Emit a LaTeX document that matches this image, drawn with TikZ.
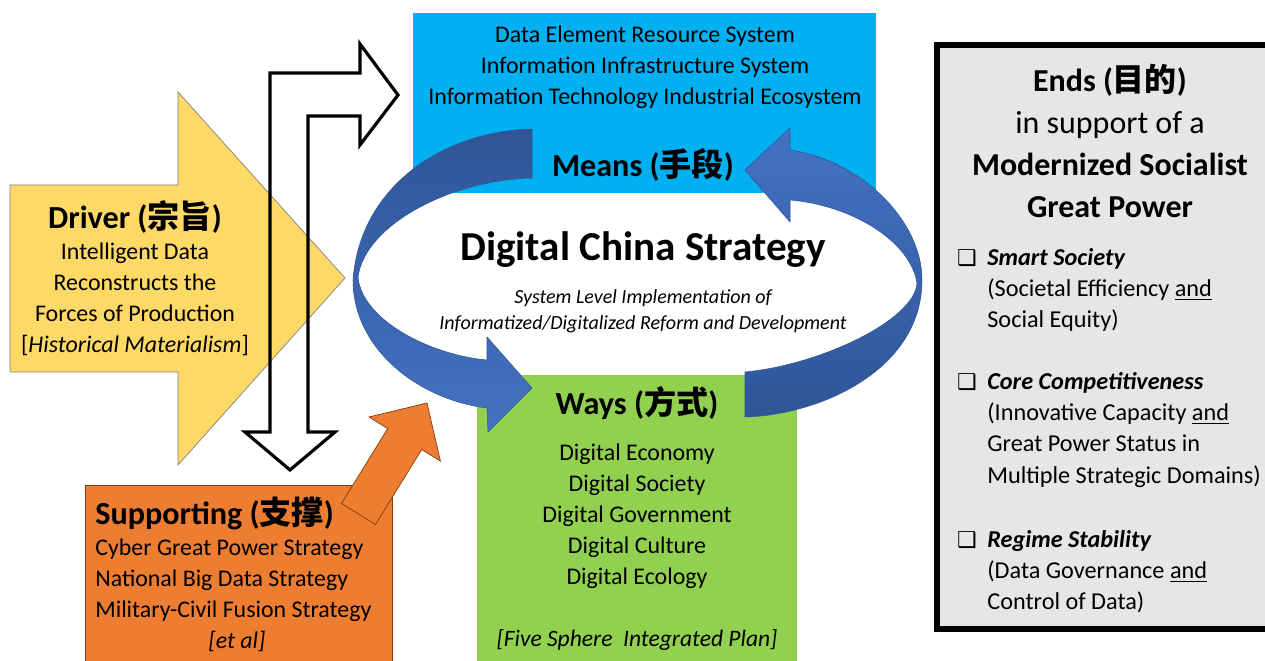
\documentclass[tikz,border=0pt]{standalone}
\usepackage{fontspec}
\usepackage{tikz}
\setmainfont{Carlito}
\newfontfamily\cjk{Noto Sans CJK SC}
\newfontfamily\symfont{DejaVu Sans}
\usetikzlibrary{positioning}
\definecolor{meansblue}{RGB}{0,176,240}
\definecolor{waysgreen}{RGB}{146,208,80}
\definecolor{supportorange}{RGB}{237,125,49}
\definecolor{orangeedge}{RGB}{132,60,12}
\definecolor{driveryellow}{RGB}{255,217,102}
\definecolor{ringblue}{RGB}{68,114,196}
\definecolor{ringdark}{RGB}{47,85,151}
\definecolor{endsgray}{RGB}{231,230,230}

\begin{document}
\begin{tikzpicture}[
  x=0.02cm, y=-0.02cm,
  block/.style={anchor=north west, inner sep=0pt, outer sep=0pt},
  listtext/.style={align=center, inner sep=0pt, font=\fontsize{13.6}{17.6}\selectfont},
  headtext/.style={inner sep=0pt, font=\fontsize{18.3}{22}\selectfont\bfseries},
  endstext/.style={align=left, anchor=west, inner sep=0pt, font=\fontsize{13.8}{17.7}\selectfont},
  ring/.style={draw=ringdark, line width=0.3pt}
]
  \useasboundingbox (0,0) rectangle (1265,661);

  % boxes
  \node[block, fill=meansblue, minimum width=9.26cm, minimum height=3.6cm] (means) at (413,13) {};
  \node[block, fill=waysgreen, minimum width=6.4cm, minimum height=6.2cm] (ways) at (477,375) {};

  % circular arrows
  \shade[ring, top color=ringdark, bottom color=ringblue]
    (532,129) .. controls (445,131) and (360,185) .. (353,280)
    .. controls (353,350) and (420,400) .. (487,408)
    -- (488,432) -- (532,388) -- (487,337) -- (487,360)
    .. controls (430,355) and (362,320) .. (358,277)
    .. controls (365,225) and (450,180) .. (532,178) -- cycle;
  \shade[ring, top color=ringblue, bottom color=ringdark]
    (745,417) .. controls (820,415) and (922,370) .. (922,280)
    .. controls (922,220) and (860,160) .. (790,150)
    -- (790,128) -- (745,170) -- (790,222) -- (790,200)
    .. controls (850,205) and (910,240) .. (917,283)
    .. controls (915,320) and (820,365) .. (745,372) -- cycle;

  \node[block, fill=supportorange, draw=orangeedge, line width=0.4pt, minimum width=6.14cm, minimum height=4cm] (support) at (85,485) {};
  \node[block, fill=endsgray, draw=black, line width=3.4pt, minimum width=7.2cm, minimum height=11.68cm] (ends) at (937,45) {};

  % orange arrow
  \path[draw=orangeedge, fill=supportorange, line width=0.4pt]
    (341.5,503.5) -- (387.7,428.6) -- (369,417) -- (427,403)
    -- (440.4,461.1) -- (421.7,449.6) -- (375.5,524.5) -- cycle;

  % driver arrow
  \path[draw=gray, fill=driveryellow, line width=0.4pt]
    (10,185) -- (178,185) -- (178,92) -- (345,278) -- (178,465) -- (178,372) -- (10,372) -- cycle;

  % hollow arrow
  \draw[line width=1.8pt, line join=miter]
    (270,432) -- (245,432) -- (290,470) -- (335,432) -- (308,432) -- (308,116)
    -- (360,116) -- (360,145) -- (398,95) -- (360,44) -- (360,73) -- (270,73) -- cycle;

  % texts
  \node[listtext] (meanslist) at (645,67) {Data Element Resource System\\Information Infrastructure System\\Information Technology Industrial Ecosystem};
  \node[headtext] (meanstitle) at (643,165) {Means ({\cjk 手段})};

  \node[inner sep=0pt, font=\fontsize{23.4}{26}\selectfont\bfseries] (strategy) at (643,250) {Digital China Strategy};
  \node[align=center, inner sep=0pt, font=\fontsize{11.4}{14.7}\selectfont\itshape] (strategysub) at (643,311) {System Level Implementation of\\Informatized/Digitalized Reform and Development};

  \node[headtext] (waystitle) at (637,403) {Ways ({\cjk 方式})};
  \node[listtext] (wayslist) at (637,516) {Digital Economy\\Digital Society\\Digital Government\\Digital Culture\\Digital Ecology};
  \node[listtext, font=\fontsize{13.4}{17.6}\selectfont\itshape] (waysplan) at (637,640) {[Five Sphere\ \ Integrated Plan]};

  \node[headtext] (drivertitle) at (135,217) {Driver ({\cjk 宗旨})};
  \node[listtext] (driverlist) at (135,299.5) {Intelligent Data\\Reconstructs the\\Forces of Production\\{[}\textit{Historical Materialism}{]}};

  \node[headtext, anchor=west] (supporttitle) at (95,513) {Supporting ({\cjk 支撑})};
  \node[listtext, align=left, anchor=west] (supportlist) at (95,580) {Cyber Great Power Strategy\\National Big Data Strategy\\Military-Civil Fusion Strategy};
  \node[listtext, font=\fontsize{13.6}{17.6}\selectfont\itshape] (supportetal) at (237,641) {[et al]};

  \node[align=center, inner sep=0pt, font=\fontsize{18.2}{23.8}\selectfont] (endstitle) at (1110,141)
    {\textbf{Ends ({\cjk 目的})}\\in support of a\\\textbf{Modernized Socialist}\\\textbf{Great Power}};
  \node[endstext] (smart) at (987,290)
    {\llap{{\symfont\fontsize{12.5}{12}\selectfont ❑}\hspace{6pt}}\textbf{\textit{Smart Society}}\\(Societal Efficiency \underline{and}\\Social Equity)};
  \node[endstext] (core) at (987,430)
    {\llap{{\symfont\fontsize{12.5}{12}\selectfont ❑}\hspace{6pt}}\textbf{\textit{Core Competitiveness}}\\(Innovative Capacity \underline{and}\\Great Power Status in\\Multiple Strategic Domains)};
  \node[endstext] (regime) at (987,572)
    {\llap{{\symfont\fontsize{12.5}{12}\selectfont ❑}\hspace{6pt}}\textbf{\textit{Regime Stability}}\\(Data Governance \underline{and}\\Control of Data)};
\end{tikzpicture}
\end{document}
